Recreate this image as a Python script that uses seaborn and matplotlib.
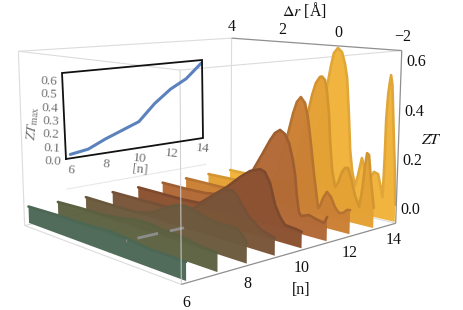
import numpy as np, matplotlib
matplotlib.use('Agg')
import matplotlib.pyplot as plt
import seaborn as sns
from matplotlib.transforms import Transform
from mpl_toolkits.mplot3d import proj3d
from mpl_toolkits.mplot3d.art3d import Poly3DCollection

# ---- data -----------------------------------------------------------------
dr_14 = [4.0,3.16,2.35,1.77,1.28,0.92,0.66,0.46,0.31,0.19,0.10,-0.03,-0.17,-0.28,-0.36,-0.45,-0.52,-0.60,-0.71,-0.80,-0.91,-1.02,-1.10,-1.19,-1.31,-1.44,-1.54,-1.60,-1.62,-1.63,-1.635,-1.67,-1.70,-1.74,-1.79,-1.83,-1.89,-1.95,-1.98,-2.0]
zt_14 = [0.0,0.0,0.002,0.006,0.015,0.102,0.244,0.358,0.461,0.553,0.609,0.632,0.616,0.567,0.509,0.353,0.204,0.119,0.052,0.102,0.178,0.130,0.067,0.100,0.129,0.123,0.067,0.030,0.145,0.229,0.354,0.457,0.498,0.539,0.500,0.411,0.277,0.154,0.051,0.010]
dr_13 = [4.0,1.89,1.14,0.71,0.48,0.32,0.19,0.06,-0.06,-0.19,-0.26,-0.36,-0.43,-0.52,-0.57,-0.66,-0.77,-0.86,-0.98,-1.07,-1.17,-1.27,-1.41,-1.55,-1.63,-1.70,-1.75,-1.81,-1.89,-2.0]
zt_13 = [0.0,0.005,0.008,0.061,0.198,0.297,0.364,0.442,0.494,0.521,0.524,0.511,0.470,0.368,0.264,0.140,0.071,0.091,0.140,0.159,0.162,0.123,0.056,0.010,0.083,0.187,0.237,0.231,0.131,0.020]
dr_12 = [4.0,1.79,1.04,0.68,0.40,0.24,0.07,-0.09,-0.21,-0.34,-0.48,-0.58,-0.66,-0.74,-0.82,-0.97,-1.03,-1.12,-1.24,-1.37,-1.50,-1.63,-1.76,-1.88,-1.97]
zt_12 = [0.0,0.0,0.007,0.060,0.133,0.222,0.296,0.382,0.430,0.452,0.430,0.375,0.304,0.224,0.143,0.011,0.022,0.057,0.086,0.069,0.032,0.012,0.016,0.032,0.034]
dr_11 = [4.0,3.04,2.23,1.46,0.90,0.54,0.44,0.10,-0.14,-0.30,-0.47,-0.63,-0.77,-0.90,-0.98,-1.05,-1.12,-1.19,-1.44,-1.66,-1.91,-2.0]
zt_11 = [0.0,0.0,0.003,0.017,0.076,0.136,0.151,0.230,0.288,0.320,0.336,0.323,0.290,0.226,0.168,0.082,0.024,0.010,0.022,0.013,0.006,0.032]
dr_10 = [4.0,3.06,2.12,1.46,1.08,0.47,0.01,-0.33,-0.66,-0.82,-0.99,-1.16,-1.32,-1.48,-1.64,-1.82,-2.0]
zt_10 = [0.0,0.0,0.0,0.005,0.042,0.101,0.154,0.187,0.203,0.196,0.157,0.077,0.035,0.009,0.007,0.005,0.0]
dr_9 = [4.0,3.24,2.28,1.42,0.85,0.49,0.13,-0.11,-0.38,-0.62,-0.82,-0.98,-1.21,-1.37,-1.53,-1.68,-1.84,-1.99]
zt_9 = [0.0,0.001,0.003,0.005,0.018,0.050,0.088,0.115,0.135,0.141,0.120,0.087,0.052,0.039,0.021,0.015,0.009,0.003]
dr_8 = [4.0,3.37,2.65,1.91,1.32,0.83,0.50,0.21,-0.14,-0.48,-0.82,-1.31,-1.68,-1.87,-1.99]
zt_8 = [0.0,0.0,0.0,0.001,0.015,0.047,0.069,0.082,0.081,0.069,0.057,0.054,0.056,0.033,0.012]
dr_7 = [4.0,3.01,2.17,1.36,0.72,0.24,-0.22,-0.80,-1.45,-2.0]
zt_7 = [0.002,0.007,0.009,0.018,0.032,0.032,0.025,0.023,0.010,0.005]
dr_6 = [4.0,2.58,1.35,0.58,-0.15,-0.84,-1.50,-2.0]
zt_6 = [0.006,0.012,0.013,0.020,0.012,0.003,0.004,0.003]
ribbons = {6:(dr_6,zt_6),7:(dr_7,zt_7),8:(dr_8,zt_8),9:(dr_9,zt_9),10:(dr_10,zt_10),
           11:(dr_11,zt_11),12:(dr_12,zt_12),13:(dr_13,zt_13),14:(dr_14,zt_14)}
ribbon_colors = ['#4f6a58','#5e6343','#6d5b3f','#7a5539','#8c5232','#b36b37','#cb8135','#e5a234','#f1b43c']
rim_shade = [0.97,0.97,0.97,0.96,0.9,0.88,0.9,0.92,0.93]
guide_n = [6.05,6.08,np.nan,6.42,7.1,np.nan,7.48,7.96]
guide_dr = [0.05,0.05,np.nan,0.06,0.06,np.nan,0.04,0.03]
inset_n = [6,7,8,9,10,11,12,13,14]
inset_zt = [0.03,0.05,0.11,0.16,0.21,0.34,0.44,0.51,0.625]
n_ticks = [6,8,10,12,14]
dr_ticks = [4,2,0,-2]
zt_ticks = [0.0,0.2,0.4,0.6]
inset_yticks = [0.0,0.1,0.2,0.3,0.4,0.5,0.6]

# ---- style ----------------------------------------------------------------
sns.set_theme(style='white')
plt.rcParams['font.family'] = ['Liberation Serif','DejaVu Serif']
plt.rcParams['mathtext.fontset'] = 'stix'
W, H = 463, 310
fig = plt.figure(figsize=(W/100, H/100), dpi=100)
palette = sns.color_palette(ribbon_colors)

nmin,nmax,dmin,dmax,zb,zt = 5.85,14.05,-2,4,-0.07,0.64
floor = -0.063
ax = fig.add_subplot(projection='3d', computed_zorder=False)
ax.set_position([-24.7274/W, 11.7414/H, 1, 1])
ax.set_xlim(nmin,nmax,view_margin=0); ax.set_ylim(dmin,dmax,view_margin=0); ax.set_zlim(zb,zt,view_margin=0)
ax.view_init(9.9837,-131.9429)
ax.set_box_aspect((1.6254,1.3953,1),zoom=1.3036)
ax.set_proj_type('persp',focal_length=0.5591)
ax.set_axis_off()
ax.patch.set_alpha(0)

def edge(a,b,color,lw=0.8,z=1):
    ax.plot([a[0],b[0]],[a[1],b[1]],[a[2],b[2]],color=color,lw=lw,zorder=z,solid_capstyle='butt',clip_on=False)
A=(nmin,dmin,zb);B=(nmax,dmin,zb);C=(nmax,dmin,zt);Hc=(nmin,dmin,zt)
E=(nmin,dmax,zt);F=(nmin,dmax,zb);D=(nmax,dmax,zt);G=(nmax,dmax,zb)
light='#dcdcdc'; dark='#8f8f8f'
for a,b in [(E,D),(E,Hc),(Hc,C),(E,F),(D,G),(F,G),(G,B),(F,A)]:
    edge(a,b,light)
edge((7.3,dmax,0.05),(12.9,dmax,0.05),'#e8e8e8')

for i,n in enumerate(sorted(ribbons,reverse=True)):
    d,z = ribbons[n]
    col = palette[n-6]
    zo = 10+i*2
    verts=[(n,a,b) for a,b in zip(d,z)]+[(n,d[-1],floor),(n,d[0],floor)]
    poly=Poly3DCollection([verts],facecolors=[(*col,0.985)],edgecolors='none',zorder=zo,clip_on=False)
    ax.add_collection3d(poly)
    poly.set_clip_on(False)
    ax.plot(np.full(len(d),n),d,z,color=tuple(c*rim_shade[n-6] for c in col),lw=1.9,zorder=zo+1,clip_on=False,
            solid_capstyle='round',solid_joinstyle='round')

ax.plot(guide_n,guide_dr,np.zeros(len(guide_n)),color='#8d8d8d',lw=2.0,zorder=40,solid_capstyle='butt',clip_on=False)
edge(Hc,A,'#cfcfcf',0.7,41)
edge(A,B,dark,0.9,41); edge(B,C,dark,0.9,41); edge(C,D,dark,0.9,41)

# ---- overlay for the inset and every text
ov=fig.add_axes([0,0,1,1])
ov.patch.set_alpha(0)
ax.apply_aspect()
M=ax.get_proj()
def px(n,dr,z):
    X,Y,_=proj3d.proj_transform(n,dr,z,M)
    return ov.transData.inverted().transform(ax.transData.transform((X,Y)))
ov.set_xlim(0,W); ov.set_ylim(H,0)
fs=11.5; ink='#111111'
def lab3(n,dr,z,s):
    x,y=px(n,dr,z)
    ov.text(x,y,s,ha='center',va='center',fontsize=fs,color=ink)
for t in n_ticks:
    lab3(t,dmin,zb-0.068,str(t))
lab3(10,dmin,zb-0.155,'[n]')
for t in dr_ticks:
    lab3(nmax,t,zt+0.055,str(t).replace('-','\u2212'))
lab3(nmax,1.2,zt+0.145,'$\\Delta r$ [Å]')
for t in zt_ticks:
    lab3(nmax,dmin-0.42,t,'%.1f'%t)
lab3(nmax,dmin-0.95,0.30,'$ZT$')

class Wall(Transform):
    input_dims=output_dims=2
    def __init__(self,src,dst):
        super().__init__()
        a=[]
        b=[]
        for (x,y),(u,v) in zip(src,dst):
            a.append([x,y,1,0,0,0,-u*x,-u*y]);b.append(u)
            a.append([0,0,0,x,y,1,-v*x,-v*y]);b.append(v)
        self.h=np.append(np.linalg.solve(np.array(a),np.array(b)),1).reshape(3,3)
    def transform_non_affine(self,pts):
        p=np.c_[np.asarray(pts),np.ones(len(pts))]@self.h.T
        return p[:,:2]/p[:,2:]
i_x0,i_x1,i_y0,i_y1=5.75,14.05,0,0.65
wall=Wall([(i_x0,i_y0),(i_x1,i_y0),(i_x1,i_y1),(i_x0,i_y1)],[(66,159),(203,138),(202,60),(62,73)])
tr=wall+ov.transData
sns.lineplot(x=inset_n,y=inset_zt,ax=ov,color='#5b82bd',lw=2.2,transform=tr,legend=False)
ov.plot([i_x0,i_x1,i_x1,i_x0,i_x0],[i_y0,i_y0,i_y1,i_y1,i_y0],color='#111111',lw=1.3,transform=tr,solid_joinstyle='miter')
ov.set_xlim(0,W); ov.set_ylim(H,0); ov.axis('off')
gray='#707070'; fi=9.6
for t in inset_yticks:
    ov.text(5.02,t,'%.1f'%t,ha='center',va='center',fontsize=fi,color=gray,rotation=-3,transform=tr)
for t in n_ticks:
    ov.text(t,-0.09,str(t),ha='center',va='center',fontsize=fi,color=gray,rotation=-5,transform=tr)
ov.text(10,-0.175,'[n]',ha='center',va='center',fontsize=fi,color=gray,rotation=-5,transform=tr)
ov.text(4.1,0.3,'$ZT_{\\mathrm{max}}$',ha='center',va='center',fontsize=fi+0.5,color=gray,rotation=85,transform=tr)

fig.savefig('out.png',dpi=100)
